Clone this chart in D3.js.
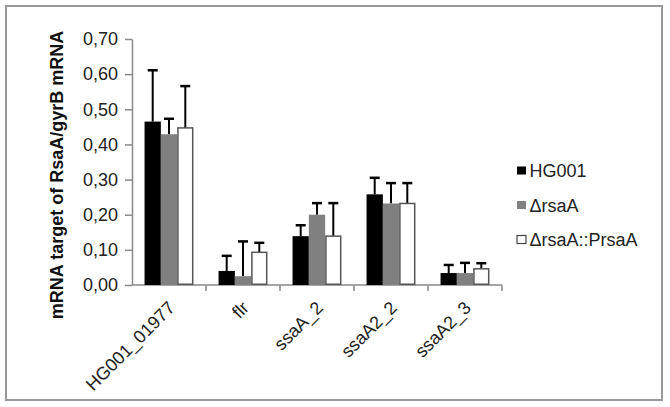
<!DOCTYPE html>
<html><head><meta charset="utf-8">
<script src="https://cdn.jsdelivr.net/npm/d3@7"></script>
<style>body{margin:0;background:#fff}svg{display:block}text{font-family:Arial,"Liberation Sans",sans-serif}</style>
</head><body>
<script>
const categories = ["HG001_01977", "flr", "ssaA_2", "ssaA2_2", "ssaA2_3"];
const seriesNames = ["HG001", "ΔrsaA", "ΔrsaA::PrsaA"];
const hg001 = [0.465, 0.040, 0.139, 0.258, 0.034];
const hg001Err = [0.146, 0.043, 0.031, 0.047, 0.023];
const rsaA = [0.429, 0.025, 0.200, 0.232, 0.034];
const rsaAErr = [0.044, 0.099, 0.033, 0.058, 0.029];
const prsaA = [0.447, 0.093, 0.139, 0.232, 0.046];
const prsaAErr = [0.119, 0.027, 0.094, 0.058, 0.016];
const yTicks = [0, 0.1, 0.2, 0.3, 0.4, 0.5, 0.6, 0.7];
const yTitle = "mRNA target of RsaA/gyrB mRNA";

const W = 670, H = 407;
const svg = d3.select("body").append("svg").attr("width", W).attr("height", H);
svg.append("rect").attr("x", 6).attr("y", 6).attr("width", 656).attr("height", 394)
  .attr("fill", "none").attr("stroke", "#999").attr("stroke-width", 2);

const x0 = 132, x1 = 502, yTop = 39, yBot = 285;
const x = d3.scaleBand().domain(categories).range([x0, x1]).paddingInner(0).paddingOuter(0);
const y = d3.scaleLinear().domain([0, 0.7]).range([yBot, yTop]);
const barW = 16.3;
const fills = ["#000000", "#808080", "#ffffff"];
const vals = [hg001, rsaA, prsaA];
const errs = [hg001Err, rsaAErr, prsaAErr];

// Y axis
const yAxis = d3.axisLeft(y).tickValues(yTicks).tickSize(7).tickSizeOuter(0)
  .tickFormat(d => d3.format(".2f")(d).replace(".", ","));
const gy = svg.append("g").attr("transform", `translate(${x0},0)`).call(yAxis);
gy.select(".domain").attr("stroke", "#888").attr("stroke-width", 1.5);
gy.selectAll(".tick line").attr("stroke", "#888").attr("stroke-width", 1.5);
gy.selectAll(".tick text").attr("font-size", 18).attr("fill", "#222").attr("x", -14);

// X axis
const gx = svg.append("g").attr("transform", `translate(0,${yBot})`);
gx.append("line").attr("x1", x0).attr("x2", x1).attr("stroke", "#888").attr("stroke-width", 1.5);
const bounds = categories.map(c => x(c)).concat([x1]);
gx.selectAll("line.tk").data(bounds.slice(1)).join("line").attr("class", "tk")
  .attr("x1", d => d).attr("x2", d => d).attr("y1", 0).attr("y2", 6)
  .attr("stroke", "#888").attr("stroke-width", 1.5);
gx.selectAll("text.lab").data(categories).join("text").attr("class", "lab")
  .attr("transform", d => `translate(${x(d) + x.bandwidth() / 2 + 7},24) rotate(-45)`)
  .attr("text-anchor", "end").attr("font-size", 18).attr("fill", "#222").text(d => d);

// Bars
const groupW = barW * 3;
vals.forEach((arr, s) => {
  const g = svg.append("g");
  const bx = c => x(c) + x.bandwidth() / 2 - groupW / 2 + s * barW;
  g.selectAll("line.e").data(categories).join("line").attr("class", "e")
    .attr("x1", c => bx(c) + barW / 2).attr("x2", c => bx(c) + barW / 2)
    .attr("y1", (c, i) => y(arr[i])).attr("y2", (c, i) => y(arr[i] + errs[s][i]))
    .attr("stroke", "#000").attr("stroke-width", 2);
  g.selectAll("line.c").data(categories).join("line").attr("class", "c")
    .attr("x1", c => bx(c) + barW / 2 - 5).attr("x2", c => bx(c) + barW / 2 + 5)
    .attr("y1", (c, i) => y(arr[i] + errs[s][i])).attr("y2", (c, i) => y(arr[i] + errs[s][i]))
    .attr("stroke", "#000").attr("stroke-width", 2.5);
  g.selectAll("rect").data(categories).join("rect")
    .attr("x", c => bx(c) + (s === 2 ? 0.75 : 0)).attr("width", barW - (s === 2 ? 1.5 : 0))
    .attr("y", (c, i) => y(arr[i])).attr("height", (c, i) => yBot - y(arr[i]) - (s === 2 ? 0.75 : 0))
    .attr("fill", fills[s]).attr("stroke", s === 2 ? "#555" : "none").attr("stroke-width", 1.5);
});

// Y title
svg.append("text").attr("transform", "translate(63,175) rotate(-90)")
  .attr("text-anchor", "middle").attr("font-size", 18).attr("font-weight", "bold")
  .attr("fill", "#111").text(yTitle);

// Legend
const ly = [166.5, 201, 235.5];
const leg = svg.append("g");
seriesNames.forEach((n, i) => {
  leg.append("rect").attr("x", 517).attr("y", ly[i]).attr("width", 9).attr("height", 8)
    .attr("fill", fills[i]).attr("stroke", i === 2 ? "#444" : "none").attr("stroke-width", 1.2);
  leg.append("text").attr("x", 529.5).attr("y", ly[i] + 10.5).attr("font-size", 18).attr("fill", "#222").text(n);
});
</script>
</body></html>
